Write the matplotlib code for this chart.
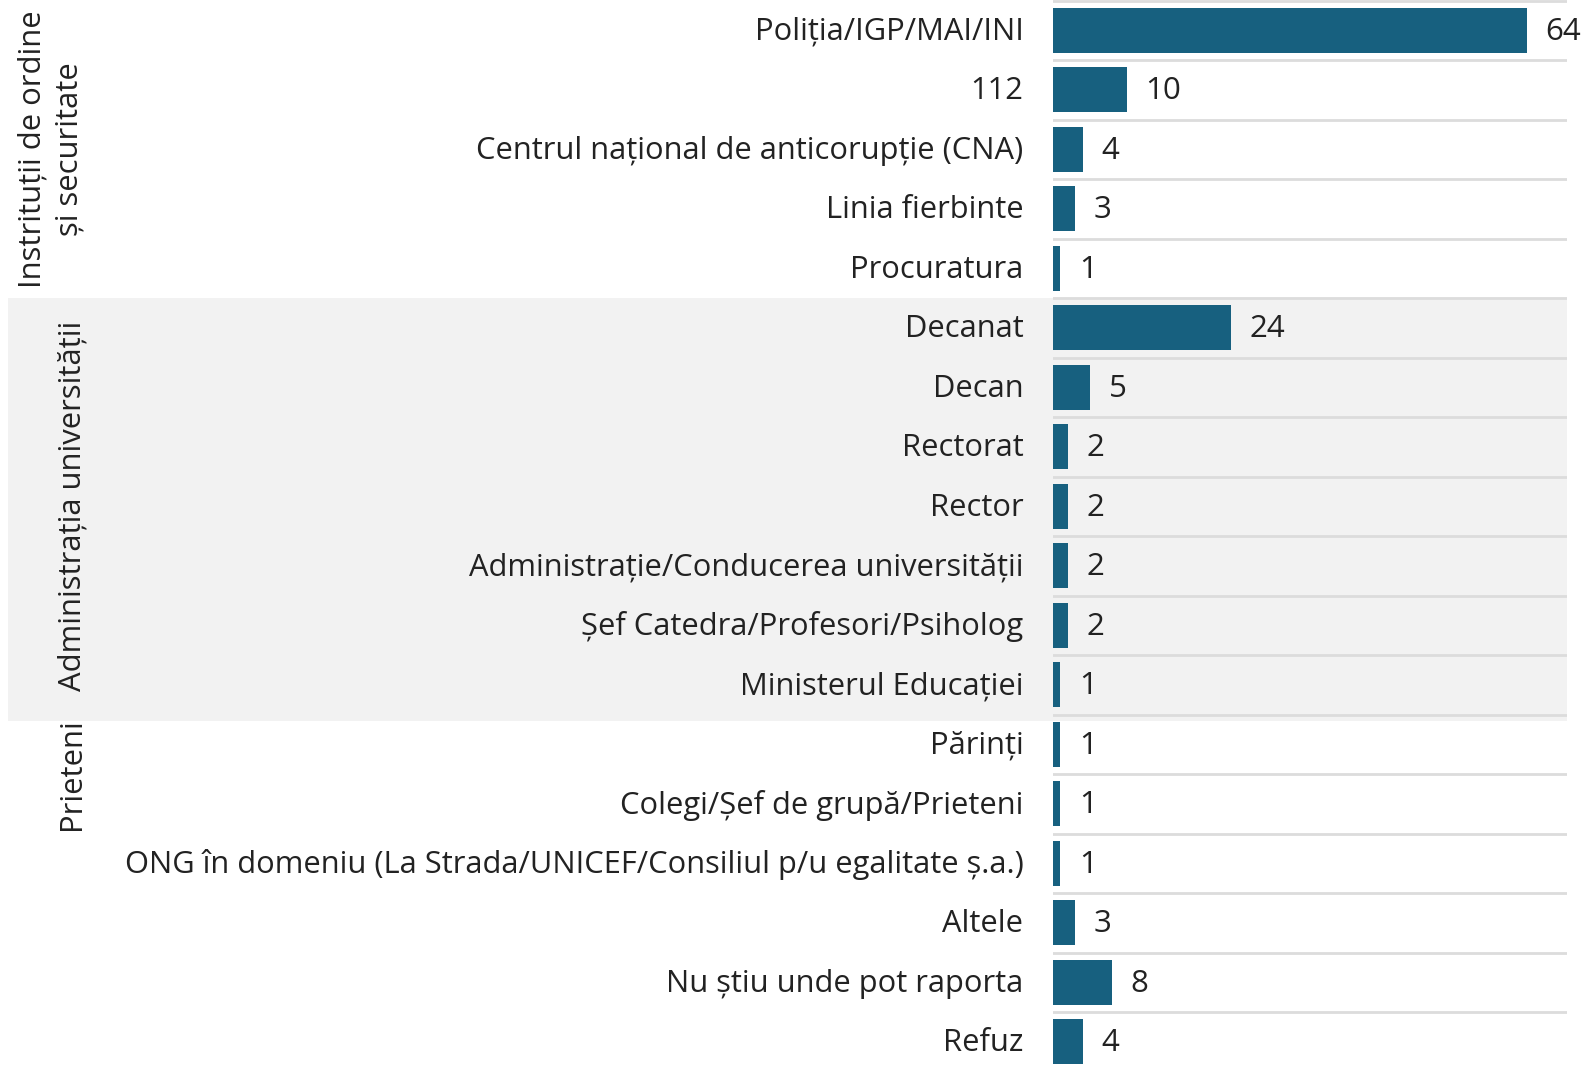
import matplotlib.pyplot as plt
from matplotlib import transforms
from matplotlib.patches import Rectangle

plt.rcParams['font.family'] = ['Open Sans', 'DejaVu Sans']

categorii = [
    'Poliția/IGP/MAI/INI', '112', 'Centrul național de anticorupție (CNA)',
    'Linia fierbinte', 'Procuratura', 'Decanat', 'Decan', 'Rectorat', 'Rector',
    'Administrație/Conducerea universității', 'Șef Catedra/Profesori/Psiholog',
    'Ministerul Educației', 'Părinți', 'Colegi/Șef de grupă/Prieteni',
    'ONG în domeniu (La Strada/UNICEF/Consiliul p/u egalitate ș.a.)',
    'Altele', 'Nu știu unde pot raporta', 'Refuz',
]
valori = [64, 10, 4, 3, 1, 24, 5, 2, 2, 2, 2, 1, 1, 1, 1, 3, 8, 4]

# grupuri: (eticheta, primul rand, ultimul rand)
grupuri = [
    ('Instrituții de ordine\nși securitate', 0, 4),
    ('Administrația universității', 5, 11),
    ('Prieteni', 12, 13),
]

albastru = '#17607f'
gri_banda = '#f2f2f2'
gri_linie = '#dcdcdc'
text_col = '#222222'

fig = plt.figure(figsize=(15.9, 10.68), dpi=100)
ax = fig.add_axes([0.6623, 0, 0.9855 - 0.6623, 1])

y = list(range(len(categorii)))

# banda gri pentru administratie
bl = transforms.blended_transform_factory(fig.transFigure, ax.transData)
ax.add_patch(Rectangle((0.005, 4.5), 0.9855 - 0.005, 7.1, transform=bl,
                       facecolor=gri_banda, edgecolor='none', clip_on=False, zorder=0))

for i in range(len(categorii)):
    ax.axhline(i - 0.5, color=gri_linie, lw=2, zorder=1)

ax.barh(y, valori, height=0.76, color=albastru, zorder=2)

for i, v in enumerate(valori):
    ax.text(v + 2.5, i + 0.02, str(v), va='center', ha='left', fontsize=22.5, color=text_col)
    ax.text(-4.0, i + 0.02, categorii[i], va='center', ha='right', fontsize=22.2, color=text_col)

for nume, a, b in grupuri:
    xg = 0.0318 if '\n' in nume else 0.0455
    ax.text(xg, (a + b) / 2, nume, transform=bl, rotation=90, ha='center', va='center',
            multialignment='center', fontsize=22.3, color=text_col, linespacing=1.3)

ax.set_xlim(0, 69.4)
ax.set_ylim(17.44, -0.51)
ax.axis('off')

fig.savefig('out.png', dpi=100)
